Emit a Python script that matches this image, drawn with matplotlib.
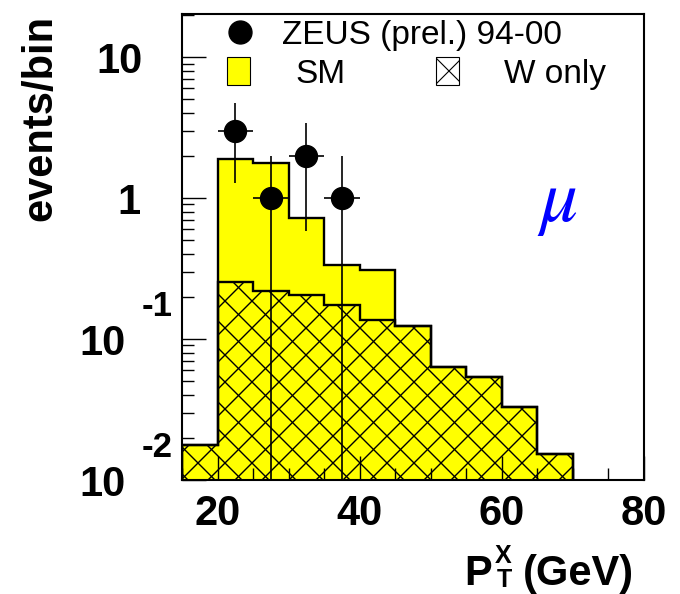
import numpy as np
import matplotlib
matplotlib.use("Agg")
import matplotlib.pyplot as plt
from matplotlib.collections import LineCollection
from matplotlib.patches import Rectangle
from matplotlib.lines import Line2D
from matplotlib.ticker import FixedLocator, MultipleLocator, LogLocator, NullFormatter

# ---- data -----------------------------------------------------------------
bin_edges = [15, 20, 25, 30, 35, 40, 45, 50, 55, 60, 65, 70, 75, 80]
sm_events = [0.0178, 1.90, 1.76, 0.718, 0.336, 0.31, 0.124, 0.063, 0.0537,
             0.0327, 0.0154, 0.0, 0.0]
w_events = [0.0178, 0.255, 0.219, 0.205, 0.175, 0.136, 0.124, 0.063, 0.0537,
            0.0327, 0.0154, 0.0, 0.0]
data_x = [22.5, 27.5, 32.5, 37.5]
data_y = [3, 1, 2, 1]
data_xerr = 2.5

x_major = [20, 40, 60, 80]
x_labels = ["20", "40", "60", "80"]

# ---- figure ---------------------------------------------------------------
W, H = 680, 594
fig = plt.figure(figsize=(W / 100, H / 100), dpi=100)
ax = fig.add_axes([182 / W, (H - 480) / H, 462 / W, 466 / H])
ax.set_yscale("log")
Y_MIN, Y_MAX = 0.01, 20.2
ax.set_xlim(15, 80)
ax.set_ylim(Y_MIN, Y_MAX)

SANS = "Liberation Sans"
YELLOW = "#ffff00"


def fpx(x, y_down):
    """pixel position (y measured from top) -> figure fraction"""
    return x / W, 1 - y_down / H


def hatch(period=27.0, phase_a=121.0, phase_b=599.0, lw=1.0):
    """45-degree cross-hatch lines in figure pixel space"""
    segs = []
    start = phase_a % period - H - period
    for c in np.arange(start, W + period, period):          # x - y = c
        segs.append([(c / W, 0), ((c + H) / W, 1)])
    for c in np.arange(phase_b % period, W + H + period, period):  # x + y = c
        segs.append([(c / W, 0), ((c - H) / W, 1)])
    return LineCollection(segs, transform=fig.transFigure, colors="black",
                          linewidths=lw)


# trim empty trailing bins (log axis)
n_fill = max(i for i, v in enumerate(sm_events) if v > 0) + 1
edges = np.array(bin_edges[: n_fill + 1], dtype=float)
sm = np.array(sm_events[:n_fill])
ww = np.array(w_events[:n_fill])

# SM histogram (yellow)
ax.stairs(sm, edges, baseline=Y_MIN, fill=True, facecolor=YELLOW,
          edgecolor="none", zorder=1)
# W-only hatched region
w_patch = ax.stairs(ww, edges, baseline=Y_MIN, fill=True, facecolor="none",
                    edgecolor="none", zorder=1.1)
lc = hatch()
lc.set_clip_path(w_patch)
lc.set_zorder(1.2)
ax.add_collection(lc, autolim=False)
ax.stairs(ww, edges, baseline=Y_MIN, fill=False, edgecolor="black",
          linewidth=1.7, zorder=1.3)
ax.stairs(sm, edges, baseline=Y_MIN, fill=False, edgecolor="black",
          linewidth=1.7, zorder=1.4)

# data points
dy = np.sqrt(np.array(data_y, dtype=float))
ax.errorbar(data_x, data_y, xerr=data_xerr, yerr=dy, fmt="o", color="black",
            markersize=15.8, elinewidth=1.2, capsize=0, zorder=3)

# ---- axes style -----------------------------------------------------------
for s in ax.spines.values():
    s.set_linewidth(1.5)
    s.set_zorder(4)
ax.xaxis.set_major_locator(FixedLocator(x_major))
ax.set_xticklabels(x_labels, fontfamily=SANS, fontweight="bold", fontsize=30)
ax.xaxis.set_minor_locator(MultipleLocator(5))
ax.yaxis.set_major_locator(LogLocator(base=10))
ax.yaxis.set_minor_locator(LogLocator(base=10, subs=np.arange(2, 10)))
ax.yaxis.set_minor_formatter(NullFormatter())
ax.tick_params(which="both", direction="in", top=False, right=False,
               labelleft=False, width=1.0, color="black")
ax.tick_params(which="major", length=17)
ax.tick_params(which="minor", length=8.5)
ax.tick_params(axis="x", which="major", pad=10)


# y tick labels in "10 with exponent" style
def ylab_px(val):
    return ax.transData.transform((15, val))[1]


def put(text, x_right, y_center_down, size):
    em = size * 100 / 72
    xf, yf = fpx(x_right, y_center_down + 0.358 * em)
    fig.text(xf, yf, text, ha="right", va="baseline", fontsize=size,
             fontfamily=SANS, fontweight="bold")


for val, main, expo, xr_main in [(10, "10", None, 143), (1, "1", None, 140),
                                 (0.1, "10", "-1", 126), (0.01, "10", "-2", 126)]:
    yc = H - ylab_px(val)
    put(main, xr_main, yc + 1, 30)
    if expo is not None:
        put(expo, 173, yc - 35, 25)

# axis titles
fig.text(*fpx(20, 15), "events/bin", rotation=90, ha="left", va="top",
         fontsize=30, fontfamily=SANS, fontweight="bold")
fig.text(*fpx(464, 585), "P", ha="left", va="baseline", fontsize=30,
         fontfamily=SANS, fontweight="bold")
fig.text(*fpx(495, 563), "X", ha="left", va="baseline", fontsize=18,
         fontfamily=SANS, fontweight="bold")
fig.text(*fpx(497, 587), "T", ha="left", va="baseline", fontsize=18,
         fontfamily=SANS, fontweight="bold")
fig.text(*fpx(523, 585), "(GeV)", ha="left", va="baseline", fontsize=30,
         fontfamily=SANS, fontweight="bold")

# mu label
fig.text(*fpx(537, 221), r"$\mu$", ha="left", va="baseline", fontsize=54,
         color="#0000ff", math_fontfamily="stix")

# ---- legend ---------------------------------------------------------------
fig.add_artist(Line2D([240 / W], [1 - 32 / H], marker="o", markersize=16.5,
                      color="black", linestyle="none"))
fig.text(*fpx(282, 44), "ZEUS (prel.) 94-00", ha="left", va="baseline",
         fontsize=24, fontfamily=SANS)
sm_box = Rectangle(fpx(227, 85), 23 / W, 28 / H, transform=fig.transFigure,
                   facecolor=YELLOW, edgecolor="black", linewidth=0.8)
fig.add_artist(sm_box)
fig.text(*fpx(295, 83), "SM", ha="left", va="baseline", fontsize=24,
         fontfamily=SANS)
w_box = Rectangle(fpx(436, 85), 23 / W, 28 / H, transform=fig.transFigure,
                  facecolor="white", edgecolor="black", linewidth=0.8)
fig.add_artist(w_box)
lc2 = hatch(period=27.0, phase_a=436 - (594 - 57), phase_b=436 + (594 - 85),
            lw=0.8)
lc2.set_clip_path(w_box)
fig.add_artist(lc2)
fig.text(*fpx(504, 83), "W only", ha="left", va="baseline", fontsize=24,
         fontfamily=SANS)

fig.savefig("out.png", dpi=100)
